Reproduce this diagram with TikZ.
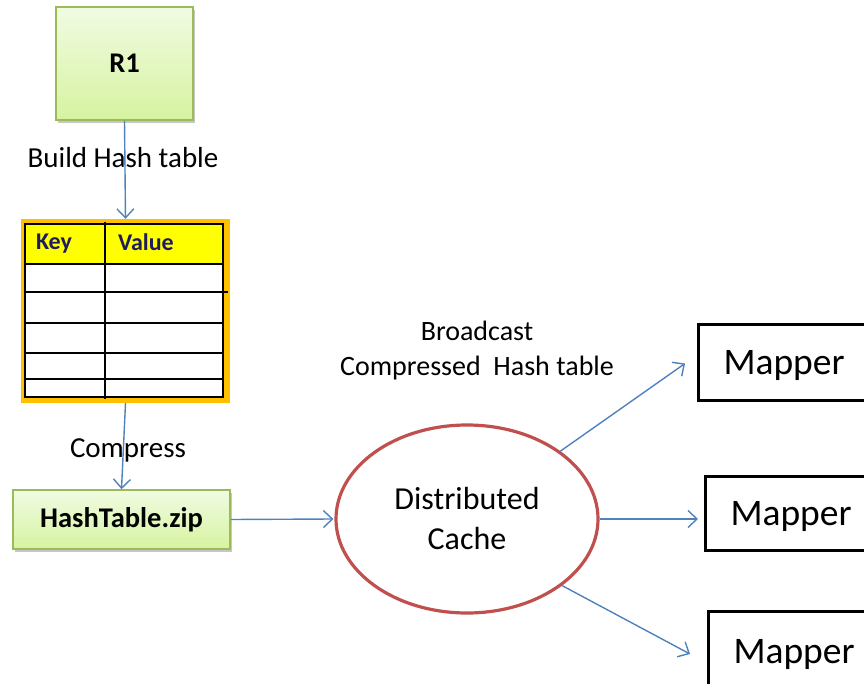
\documentclass[tikz,border=0pt]{standalone}
\usepackage{fontspec}
\setmainfont{Carlito}
\usetikzlibrary{arrows.meta,shapes.geometric,shadows}
\definecolor{flowblue}{HTML}{4F81BD}
\definecolor{boxgreen}{HTML}{9BBB59}
\definecolor{greentop}{HTML}{F1FBE3}
\definecolor{greenbot}{HTML}{D6F3A0}
\definecolor{cachered}{HTML}{C0504D}
\definecolor{frameorange}{HTML}{FFC000}
\definecolor{headyellow}{HTML}{FFFF00}
\definecolor{keynavy}{HTML}{1C1C5E}
\tikzset{
  greenbox/.style={draw=boxgreen, line width=1.6pt, top color=greentop, bottom color=greenbot,
    drop shadow={shadow xshift=2pt, shadow yshift=-3pt, fill=black, opacity=0.22},
    font=\fontsize{28.5}{32}\selectfont\bfseries, inner sep=0pt},
  flow/.style={draw=flowblue, line width=1.4pt, -{Straight Barb[length=9pt,width=17pt,line width=1.4pt]}},
  lbl/.style={font=\fontsize{29}{32}\selectfont, inner sep=0pt, align=center},
  mapperbox/.style={draw=black, line width=3pt, anchor=west, font=\fontsize{37.5}{40}\selectfont,
    text width=150pt, inner xsep=25pt, align=left, inner ysep=0pt,
    text height=32pt, text depth=7.5pt},
}
\begin{document}
\begin{tikzpicture}[x=1pt, y=-1pt]
\useasboundingbox (0,0) rectangle (864,684);
\clip (0,0) rectangle (864,684);

% source relation
\node[greenbox, minimum width=137pt, minimum height=113pt] (r1) at (124.5,63.5) {R1};

% hash table (frame, header row, grid)
\node[fill=frameorange, minimum width=209pt, minimum height=184pt, inner sep=0pt] (tab) at (125.5,311) {};
\fill[white] (25,224) rectangle (223,397);
\fill[headyellow] (25,224) rectangle (223,264);
\draw[line width=1.8pt] (25,224) rectangle (223,397);
\foreach \yy in {264,323,353,379} \draw[line width=1.8pt] (25,\yy) -- (223,\yy);
\draw[line width=1.8pt] (25,292) -- (228,292);
\draw[line width=1.8pt] (105,222) -- (105,399);
\node[font=\fontsize{24}{26}\selectfont\bfseries, text=keynavy, inner sep=0pt] (keyh) at (54,244) {Key};
\node[font=\fontsize{24}{26}\selectfont\bfseries, text=keynavy, inner sep=0pt] (valh) at (146,242) {Value};

% compressed archive
\node[greenbox, minimum width=217pt, minimum height=59pt] (zip) at (121.5,519.5) {HashTable.zip};

% distributed cache
\node[ellipse, draw=cachered, line width=3.2pt, minimum width=262pt, minimum height=188pt,
  lbl, font=\fontsize{32}{40}\selectfont] (dc) at (467,519) {Distributed\\Cache};

% mappers
\node[mapperbox, minimum height=75pt] (m1) at (697,362.5) {Mapper};
\node[mapperbox, minimum height=74pt] (m2) at (704,513) {Mapper};
\node[mapperbox, minimum height=80pt] (m3) at (707,651) {Mapper};

% connectors
\draw[flow] (r1.south) -- (tab.north);
\draw[flow] (tab.south) -- (zip.north);
\draw[flow] (zip.east) -- ([xshift=-1pt]dc.west);
\draw[flow] (dc.36.6) -- ([xshift=-12pt,yshift=-1pt]m1.west);
\draw[flow] (dc.east) -- ([xshift=-6pt]dc.east -| m2.west);
\draw[flow] (dc.-35.4) -- ([xshift=-17pt,yshift=-3pt]m3.west);

% labels
\node[lbl] (lbuild) at (123,158) {Build Hash table};
\node[lbl] (lcomp) at (128,450) {Compress};
\node[lbl, font=\fontsize{28}{35}\selectfont] (lbc) at (477,351) {Broadcast\\Compressed\ \ Hash table};
\end{tikzpicture}
\end{document}
